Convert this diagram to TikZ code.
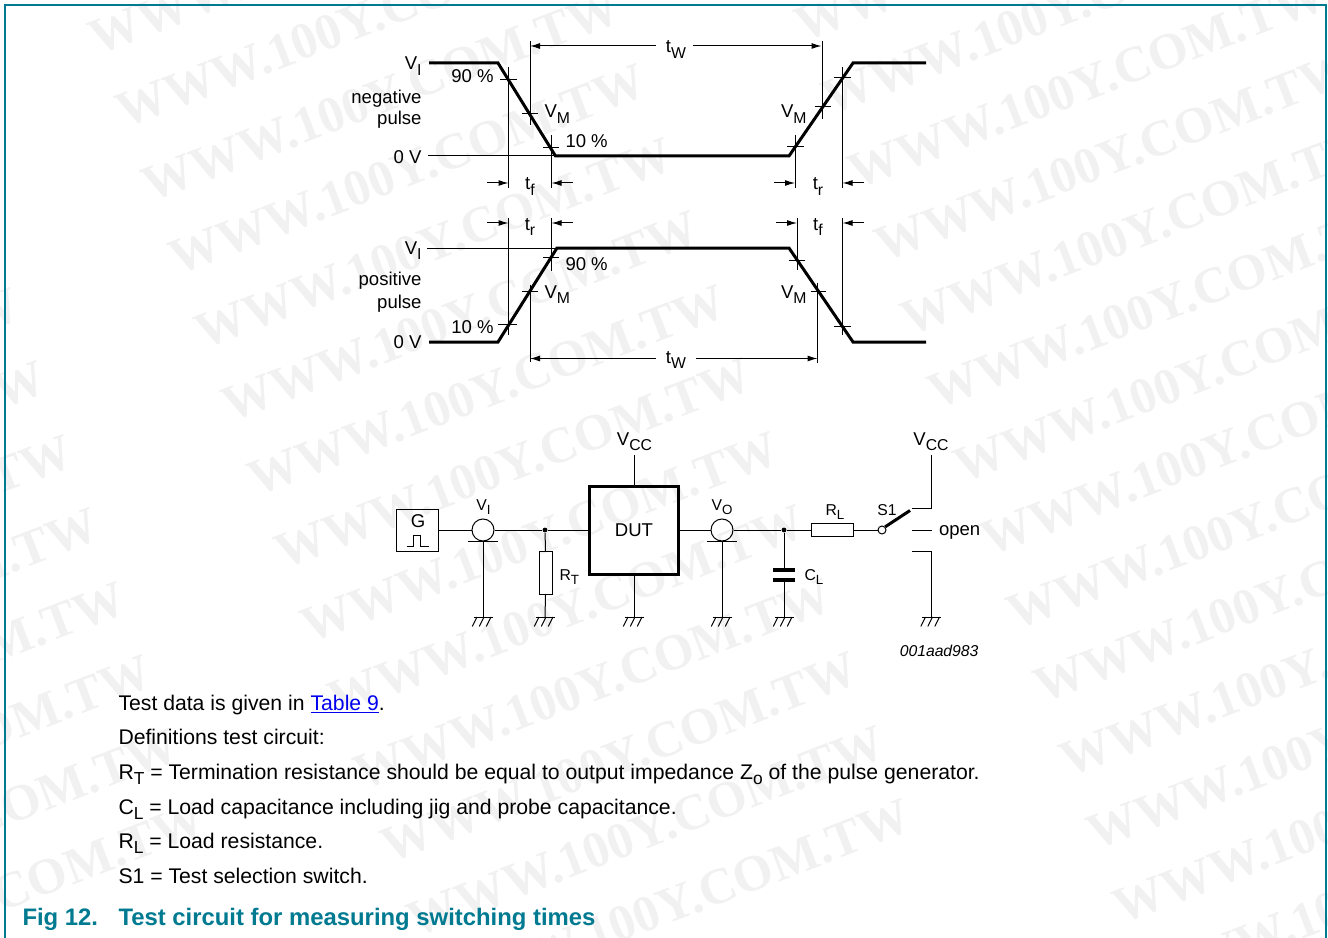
\documentclass[tikz,border=0pt]{standalone}
\usepackage{fontspec}
\setmainfont{Liberation Sans}
\newfontfamily\markfont{Liberation Serif}
\usetikzlibrary{arrows.meta}
\definecolor{nxpteal}{RGB}{0,122,145}
\definecolor{marktext}{RGB}{241,241,241}
\newcommand{\lsub}[1]{\raisebox{-0.3em}{\scalebox{0.85}{#1}}}
\newcommand{\bsub}[1]{\raisebox{-0.25em}{\scalebox{0.82}{#1}}}
% ground symbol under a named coordinate
\newcommand{\gnd}[1]{
    \draw (#1) ++(-9.5,0) -- ++(19,0);
    \foreach \dx in {-6,1,8} \draw (#1) ++(\dx,0) -- ++(-4.7,9.5);
}
\begin{document}
\begin{tikzpicture}[x=0.75pt,y=-0.75pt,line width=0.75pt,>={Latex[length=7.5pt,width=4.5pt]},
        lbl/.style={inner sep=0pt,font=\fontsize{13.9}{16}\selectfont},
        small/.style={inner sep=0pt,font=\fontsize{11.8}{14}\selectfont},
        bodytext/.style={inner sep=0pt,anchor=base west,font=\fontsize{15.9}{18}\selectfont},
        headtext/.style={inner sep=0pt,anchor=base west,text=nxpteal,font=\fontsize{17.9}{20}\selectfont\bfseries},
        wave/.style={line width=2.25pt,line join=miter},
        box/.style={draw,inner sep=0pt,fill=none},
        probe/.style={draw,circle,inner sep=0pt,minimum size=16.5pt},
        dot/.style={circle,fill=black,inner sep=0pt,minimum size=3.6pt},
        watermark/.style={inner sep=0pt,anchor=base west,rotate=21,text=marktext,font=\fontsize{38.3}{40}\markfont\bfseries}]
\useasboundingbox (0,0) rectangle (1328,938);

% background text
\foreach \k in {-3,...,12}
    \foreach \j/\dy in {-1/3,0/0,1/-13}
        \node[watermark] (mark\k\j) at ({124+26.5*\k+706*\j},{129+73.5*\k+\dy}) {WWW.100Y.COM.TW};

\draw[nxpteal,line width=1pt] (5,938) -- (5,5) -- (1326,5) -- (1326,938);

% negative pulse
\draw[wave] (429,63) -- (498,63) -- (555.5,156) -- (789,156) -- (853,63) -- (926,63);
\draw (428,156) -- (555,156);
\draw (508.5,67) -- (508.5,188);
\draw (500,80) -- (517,80);
\draw (530,41) -- (530,125);
\draw (522,114) -- (538,114);
\draw (551.5,135) -- (551.5,188);
\draw (543,148) -- (559,148);
\draw (795,135) -- (795,188);
\draw (787,147) -- (803.5,147);
\draw (822,41) -- (822,119);
\draw (814.5,107) -- (831,107);
\draw (842.5,67) -- (842.5,188);
\draw (834,78) -- (851,78);

\draw[->] (656,46) -- (530,46);
\draw[->] (693,46) -- (821.5,46);
\node[lbl,anchor=base] (twtop) at (676,53) {t\lsub{W}};
\draw[->] (487,183) -- (508.5,183);
\draw[->] (572.5,183) -- (551.5,183);
\draw[->] (774,183) -- (795,183);
\draw[->] (864,183) -- (842.5,183);
\node[lbl,anchor=base] (tfneg) at (530,190) {t\lsub{f}};
\node[lbl,anchor=base] (trneg) at (818,190) {t\lsub{r}};

\node[lbl,anchor=base east] (vihigh) at (422,69.5) {V\lsub{I}};
\node[lbl,anchor=base east] (zeroneg) at (422,163.5) {0 V};
\node[lbl,anchor=base east] (negword) at (422,103.3) {negative};
\node[lbl,anchor=base east] (negpulse) at (422,125) {pulse};
\node[lbl,anchor=base east] (ninetyneg) at (494,83) {90 \%};
\node[lbl,anchor=base west] (tenneg) at (565,147.5) {10 \%};
\node[lbl,anchor=base west] (vmnegl) at (544,118) {V\lsub{M}};
\node[lbl,anchor=base east] (vmnegr) at (807,118) {V\lsub{M}};

% positive pulse
\draw[wave] (429,342) -- (498,342) -- (557,248) -- (789,248) -- (853,342) -- (926,342);
\draw (427,248) -- (557,248);
\draw (508.5,218) -- (508.5,335);
\draw (498,324) -- (517,324);
\draw (530,285) -- (530,362);
\draw (522,291) -- (538,291);
\draw (551.5,218) -- (551.5,271);
\draw (543,257) -- (559,257);
\draw (797,218) -- (797,270);
\draw (789,260) -- (805,260);
\draw (817.5,283) -- (817.5,363);
\draw (810.5,291) -- (826,291);
\draw (842.5,218) -- (842.5,335);
\draw (834,326) -- (851,326);

\draw[->] (656,358.5) -- (530,358.5);
\draw[->] (696,358.5) -- (817.5,358.5);
\node[lbl,anchor=base] (twbot) at (676,363) {t\lsub{W}};
\draw[->] (487,223) -- (508.5,223);
\draw[->] (572.5,223) -- (551.5,223);
\draw[->] (776,223) -- (797,223);
\draw[->] (864,223) -- (842.5,223);
\node[lbl,anchor=base] (trpos) at (530,230) {t\lsub{r}};
\node[lbl,anchor=base] (tfpos) at (818,230) {t\lsub{f}};

\node[lbl,anchor=base east] (vilow) at (422,254) {V\lsub{I}};
\node[lbl,anchor=base east] (zeropos) at (422,348.5) {0 V};
\node[lbl,anchor=base east] (posword) at (422,285) {positive};
\node[lbl,anchor=base east] (pospulse) at (422,308) {pulse};
\node[lbl,anchor=base west] (ninetypos) at (565,270) {90 \%};
\node[lbl,anchor=base east] (tenpos) at (494,333) {10 \%};
\node[lbl,anchor=base west] (vmposl) at (544,298) {V\lsub{M}};
\node[lbl,anchor=base east] (vmposr) at (807,298) {V\lsub{M}};

% test circuit
\node[box,minimum width=32pt,minimum height=31.5pt] (gen) at (417.5,530) {};
\node[lbl,anchor=base] (genname) at (418,527.5) {G};
\draw (406.5,546) -- (413.5,546) -- (413.5,535) -- (420.5,535) -- (420.5,546) -- (428.5,546);
\node[probe] (probei) at (483,530) {};
\node[dot] (joint) at (545,530) {};
\node[box,line width=2.25pt,lbl,minimum width=66.4pt,minimum height=66pt] (dut) at (634,530) {DUT};
\node[probe] (probeo) at (722,530) {};
\node[dot] (jointl) at (784,530) {};
\node[box,minimum width=32pt,minimum height=9.5pt] (rl) at (832.5,530) {};
\node[draw,circle,inner sep=0pt,minimum size=6pt] (pole) at (882,530) {};
\node[box,minimum width=10pt,minimum height=32pt] (rt) at (546,573) {};

\coordinate (gndi) at (483,617);
\coordinate (gndt) at (545,617);
\coordinate (gndd) at (634,617);
\coordinate (gndo) at (722,617);
\coordinate (gndc) at (784,617);
\coordinate (gnds) at (931.5,617);
\coordinate (vccd) at (634,455);
\coordinate (vccs) at (931.5,455);
\coordinate (platea) at (784,570);
\coordinate (plateb) at (784,579.5);

\draw (gen) -- (probei) -- (joint) -- (dut) -- (probeo) -- (jointl) -- (rl) -- (pole);
\draw (joint) -- (rt) (rt) -- (gndt);
\draw (dut) -- (vccd);
\draw (dut) -- (gndd);
\draw (jointl) -- (platea);
\draw (plateb) -- (gndc);
\draw[line width=3pt] ([xshift=-8pt]platea) -- ([xshift=8pt]platea);
\draw[line width=3pt] ([xshift=-8pt]plateb) -- ([xshift=8pt]plateb);
\draw ([xshift=-11.5pt]probei.south) -- ([xshift=11.5pt]probei.south);
\draw ([xshift=-11.5pt]probeo.south) -- ([xshift=11.5pt]probeo.south);
\draw (probei.south) -- (gndi);
\draw (probeo.south) -- (gndo);

\draw[line width=2.25pt] (pole.north east) -- (910,510.5);
\draw (912,508.7) -- (931.5,508.7) -- (vccs);
\draw (912,530) -- (931.5,530);
\draw (912,551.7) -- (931.5,551.7) -- (gnds);

\gnd{gndi} \gnd{gndt} \gnd{gndd} \gnd{gndo} \gnd{gndc} \gnd{gnds}

\node[lbl,anchor=base] (vccdut) at (634.5,445) {V\lsub{CC}};
\node[lbl,anchor=base] (vccsw) at (931,445) {V\lsub{CC}};
\node[small,anchor=base] (vilabel) at (483.5,510) {V\lsub{I}};
\node[small,anchor=base] (volabel) at (722,510) {V\lsub{O}};
\node[small,anchor=base west] (rtlabel) at (559,580) {R\lsub{T}};
\node[small,anchor=base west] (cllabel) at (804,580) {C\lsub{L}};
\node[small,anchor=base] (rllabel) at (835,515) {R\lsub{L}};
\node[small,anchor=base] (swlabel) at (887,515) {S1};
\node[lbl,anchor=base west] (openlabel) at (938.5,535.7) {open};
\node[inner sep=0pt,anchor=base east,font=\fontsize{11.8}{13}\selectfont\itshape] (partcode) at (979,656.5) {001aad983};

% notes under the figure
\node[bodytext] (notea) at (118,710) {Test data is given in \textcolor[RGB]{0,0,238}{\underline{Table 9}}.};
\node[bodytext] (noteb) at (118,744) {Definitions test circuit:};
\node[bodytext] (notec) at (118,779) {R\bsub{T} = Termination resistance should be equal to output impedance Z\bsub{o} of the pulse generator.};
\node[bodytext] (noted) at (118,814) {C\bsub{L} = Load capacitance including jig and probe capacitance.};
\node[bodytext] (notee) at (118,848) {R\bsub{L} = Load resistance.};
\node[bodytext] (notef) at (118,883) {S1 = Test selection switch.};
\node[headtext] (fignum) at (22,925) {Fig 12.};
\node[headtext] (figtitle) at (118,925) {Test circuit for measuring switching times};
\end{tikzpicture}
\end{document}
